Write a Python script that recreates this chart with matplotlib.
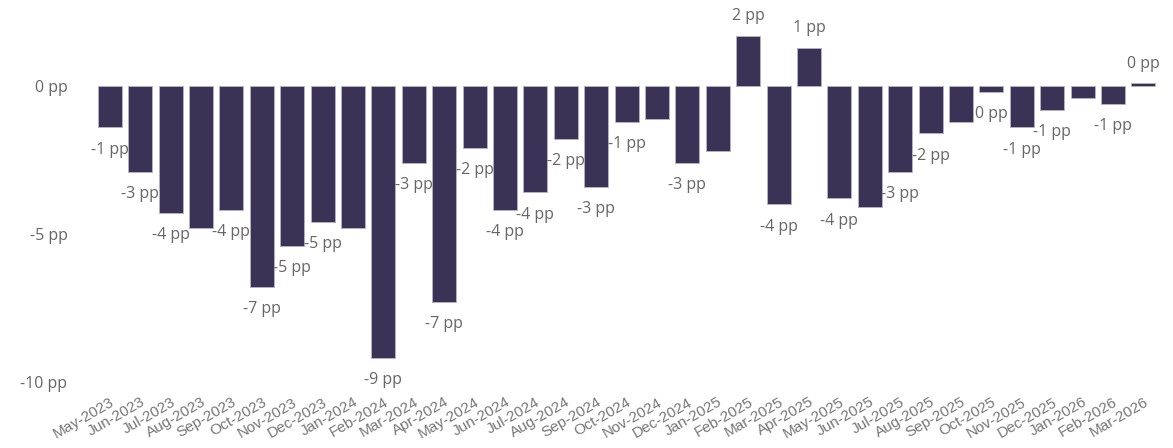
import matplotlib
matplotlib.use("Agg")
import matplotlib.pyplot as plt
import matplotlib.transforms as mtransforms
import numpy as np

months = [
    "May-2023", "Jun-2023", "Jul-2023", "Aug-2023", "Sep-2023", "Oct-2023",
    "Nov-2023", "Dec-2023", "Jan-2024", "Feb-2024", "Mar-2024", "Apr-2024",
    "May-2024", "Jun-2024", "Jul-2024", "Aug-2024", "Sep-2024", "Oct-2024",
    "Nov-2024", "Dec-2024", "Jan-2025", "Feb-2025", "Mar-2025", "Apr-2025",
    "May-2025", "Jun-2025", "Jul-2025", "Aug-2025", "Sep-2025", "Oct-2025",
    "Nov-2025", "Dec-2025", "Jan-2026", "Feb-2026", "Mar-2026",
]
change_pp = [
    -1.4, -2.9, -4.3, -4.8, -4.2, -6.8, -5.4, -4.6,
    -4.8, -9.2, -2.6, -7.3, -2.1, -4.2, -3.6, -1.8, -3.4, -1.2, -1.1, -2.6,
    -2.2, 1.7, -4.0, 1.3, -3.8, -4.1, -2.9, -1.6, -1.2, -0.2, -1.4, -0.8,
    -0.4, -0.6, 0.1,
]
# data labels that stay visible (others are dropped where they would collide)
label_shown = [
    1, 1, 1, 0, 1, 1, 1, 1,
    0, 1, 1, 1, 1, 1, 1, 1, 1, 1, 0, 1,
    0, 1, 1, 1, 1, 0, 1, 1, 0, 1, 1, 1,
    0, 1, 1,
]
y_ticks = [0, -5, -10]

BAR = "#3b3355"
TEXT = "#666666"
XTEXT = "#777777"
FONT = ["Open Sans", "DejaVu Sans"]

plt.rcParams["font.family"] = FONT

W, H, DPI = 1173, 448, 100
fig = plt.figure(figsize=(W / DPI, H / DPI), dpi=DPI)

# axes placed in pixel terms
left_px, right_px, top_px, bottom_px = 80, 1165, 0, 395
ax = fig.add_axes([left_px / W, 1 - bottom_px / H,
                   (right_px - left_px) / W, (bottom_px - top_px) / H])

x = np.arange(len(months))
ax.bar(x, change_pp, width=0.79, color=BAR, edgecolor="#b9b3c9", linewidth=0.6)

ax.set_xlim(-0.977, 34.71)
ax.set_ylim(-10.45, 2.91)

for xi, v, show in zip(x, change_pp, label_shown):
    if not show:
        continue
    txt = f"{int(round(v))} pp"
    off = 14 if v >= 0 else -16
    ax.annotate(txt, (xi, v), xytext=(0, off), textcoords="offset points",
                ha="center", va="center", fontsize=11.5, color=TEXT)

ax.set_yticks(y_ticks)
ax.set_yticklabels([f"{t} pp" for t in y_ticks], fontsize=11.5, color=TEXT)
ax.set_xticks(x)
ax.set_xticklabels(months, rotation=30, ha="right", rotation_mode="anchor",
                   fontsize=11, color=XTEXT,
                   family=["Liberation Sans", "DejaVu Sans"])
shift = mtransforms.ScaledTranslation(-5 / DPI, 0, fig.dpi_scale_trans)
for lab in ax.get_xticklabels():
    lab.set_transform(lab.get_transform() + shift)
ax.tick_params(axis="both", length=0)
ax.tick_params(axis="y", pad=9)
ax.tick_params(axis="x", pad=0)

for s in ax.spines.values():
    s.set_visible(False)

fig.savefig("out.png", dpi=DPI)
